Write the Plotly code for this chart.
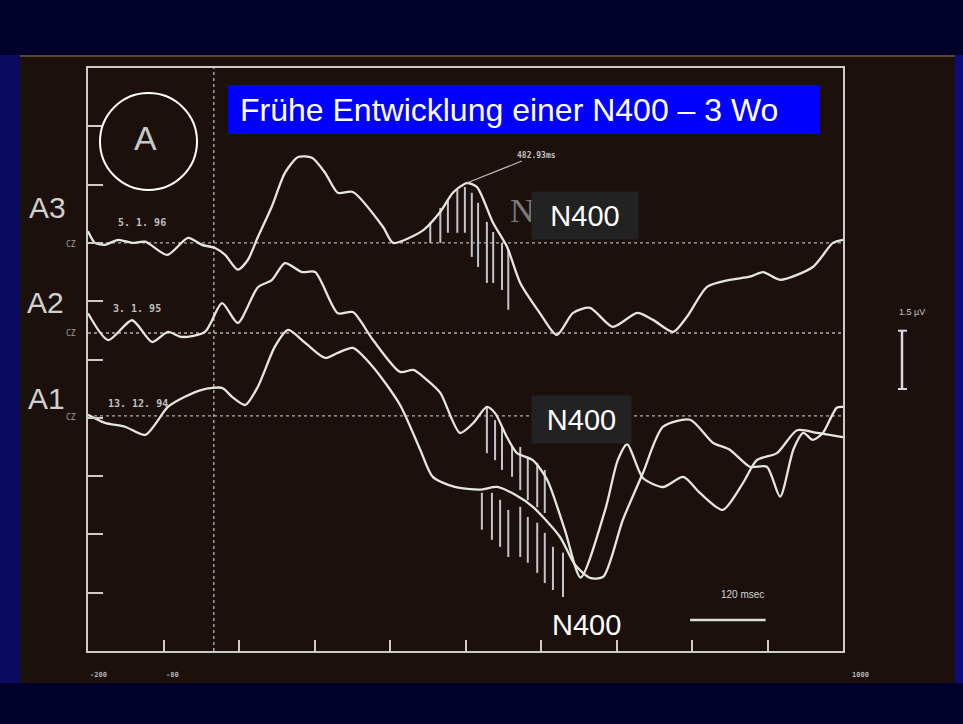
import plotly.graph_objects as go

# ---------------- data (time in ms, amplitude in µV relative to each baseline) ----------------
a3_t = [-200, -189, -173, -152, -130, -109, -74, -41, -19, 2, 18, 38, 54, 70, 92, 113, 134, 156, 177, 197,
        221, 269, 285, 333, 360, 380, 402, 418, 444, 466, 487, 518, 545, 571, 598, 634, 673, 698, 730, 752,
        784, 820, 852, 873, 900, 952, 984, 1000]
a3_v = [0.30, 0, -0.05, 0.08, 0, 0.03, -0.31, 0.13, -0.05, -0.13, -0.31, -0.69, -0.44, 0.15, 0.93, 1.80, 2.21, 2.19, 1.80, 1.29,
        1.31, 0.41, 0, 0.33, 0.80, 1.29, 1.54, 1.44, 0.51, -0.10, -1.03, -1.80, -2.37, -1.80, -1.67, -2.16, -1.80, -1.98, -2.29, -1.90,
        -1.13, -0.95, -0.87, -0.75, -0.95, -0.62, 0, 0.08]

a2_t = [-200, -168, -130, -98, -73, -51, -14, 13, 38, 70, 92, 113, 140, 161, 197, 221, 253, 296, 317, 339,
        360, 391, 412, 434, 447, 466, 482, 507, 530, 558, 583, 622, 642, 657, 682, 714, 746, 773, 809,
        841, 863, 895, 927, 959, 1000]
a2_v = [0.51, -0.18, 0.33, -0.23, 0.03, -0.10, 0.03, 0.77, 0.26, 1.18, 1.36, 1.80, 1.57, 1.57, 0.51, 0.54, -0.18, -1.00, -0.95, -1.21,
        -1.54, -2.57, -2.32, -1.90, -2.06, -2.68, -3.09, -3.27, -3.78, -5.07, -6.29, -4.55, -3.27, -2.86, -3.73, -3.96, -3.70, -4.12, -4.55,
        -3.86, -3.27, -3.09, -2.50, -2.57, -2.68]

a1_t = [-200, -173, -141, -109, -73, -46, -19, 13, 29, 50, 70, 97, 118, 145, 177, 197, 221, 253, 296, 328,
        348, 383, 423, 450, 479, 507, 550, 574, 598, 619, 650, 682, 714, 757, 793, 820, 852, 879, 900, 921,
        937, 952, 968, 990, 1000]
a1_v = [0.03, -0.18, -0.28, -0.49, 0.23, 0.49, 0.67, 0.72, 0.49, 0.28, 0.75, 1.78, 2.21, 1.88, 1.49, 1.62, 1.75, 1.26, 0.28, -0.87,
        -1.57, -1.83, -1.90, -1.83, -2.03, -2.34, -3.11, -3.83, -4.17, -4.14, -2.68, -1.47, -0.28, -0.10, -0.69, -0.87, -1.31, -1.31, -2.08, -0.87,
        -0.44, -0.62, -0.44, 0.21, 0.23]

# baseline offsets (µV on the display axis)
baselines = {"A3": 10.5, "A2": 8.18, "A1": 6.05}
dates = {"A3": "5. 1. 96", "A2": "3. 1. 95", "A1": "13. 12. 94"}

# hatched difference areas (time, top amplitude, bottom amplitude)
h3_t = [344, 360, 372, 387, 399, 410, 420, 434, 444, 458, 468]
h3_top = [0.54, 0.90, 1.11, 1.36, 1.44, 1.29, 1.03, 0.54, 0.28, 0, -0.18]
h3_bot = [0, 0, 0.26, 0.26, 0.26, -0.36, -0.62, -1.03, -1.03, -1.21, -1.72]

h2_t = [434, 447, 458, 474, 487, 499, 514, 526]
h2_top = [-1.90, -2.24, -2.42, -2.93, -2.93, -3.19, -3.34, -3.52]
h2_bot = [-3.09, -3.27, -3.52, -3.70, -4.04, -4.30, -4.48, -4.63]

h1_t = [426, 442, 455, 468, 487, 499, 514, 526, 539, 555]
h1_top = [-1.98, -1.98, -2.16, -2.42, -2.34, -2.60, -2.75, -3.01, -3.37, -3.52]
h1_bot = [-2.93, -3.19, -3.37, -3.63, -3.63, -3.78, -4.04, -4.30, -4.48, -4.66]

x_ticks = list(range(-200, 1001, 120))
y_ticks = [i * 1.5 for i in range(11)]
x_labels = [(-200, "-200"), (-80, "-80"), (1000, "1000")]
peak_label = (402, "A3", 1.54, "482.93ms")
scale_uv = 1.5
scale_ms = 120

# ---------------- layout helpers (pixel -> paper) ----------------
L, R, T, B = 88, 843, 68, 651
W, H = 963, 724
def px(x):
    return (x - L) / (R - L)
def py(y):
    return (B - y) / (B - T)

CURVE = "#e6e6df"
FRAME = "#cdcdc4"
PHOTO = "#1b100b"

fig = go.Figure()

def hatch(ts, tops, bots, off):
    xs, ys = [], []
    for t, a, b in zip(ts, tops, bots):
        xs += [t, t, None]
        ys += [off + a, off + b, None]
    return xs, ys

for ts, tops, bots, key in [(h3_t, h3_top, h3_bot, "A3"), (h2_t, h2_top, h2_bot, "A2"), (h1_t, h1_top, h1_bot, "A1")]:
    xs, ys = hatch(ts, tops, bots, baselines[key])
    fig.add_trace(go.Scatter(x=xs, y=ys, mode="lines", line=dict(color="#c4c4cc", width=2),
                             hoverinfo="skip", showlegend=False))

for ts, vs, key in [(a3_t, a3_v, "A3"), (a2_t, a2_v, "A2"), (a1_t, a1_v, "A1")]:
    off = baselines[key]
    fig.add_trace(go.Scatter(x=ts, y=[off + v for v in vs], mode="lines",
                             line=dict(color=CURVE, width=2.3, shape="spline", smoothing=0.7),
                             hoverinfo="skip", showlegend=False, name=key))

shapes = []
# slide side strips
shapes.append(dict(type="rect", xref="paper", yref="paper", x0=px(0), x1=px(20), y0=py(683), y1=py(55),
                   fillcolor="#0a0a62", line_width=0, layer="below"))
shapes.append(dict(type="rect", xref="paper", yref="paper", x0=px(955), x1=px(963), y0=py(683), y1=py(55),
                   fillcolor="#0c0c7c", line_width=0, layer="below"))
# photo
shapes.append(dict(type="rect", xref="paper", yref="paper", x0=px(20), x1=px(955), y0=py(683), y1=py(55),
                   fillcolor=PHOTO, line_width=0, layer="below"))
shapes.append(dict(type="line", xref="paper", yref="paper", x0=px(20), x1=px(955), y0=py(56), y1=py(56),
                   line=dict(color="#5c4434", width=2), layer="below"))
# dotted baselines and stimulus onset
for key, off in baselines.items():
    shapes.append(dict(type="line", xref="x", yref="y", x0=-200, x1=1000, y0=off, y1=off,
                       line=dict(color="#b0b0a6", width=1.4, dash="dot"), layer="below"))
shapes.append(dict(type="line", xref="x", yref="y", x0=0, x1=0, y0=0, y1=15,
                   line=dict(color="#b0b0a6", width=1.4, dash="dot"), layer="below"))
# circle around "A"
shapes.append(dict(type="circle", xref="paper", yref="paper", x0=px(100), x1=px(197), y0=py(190), y1=py(93),
                   line=dict(color="white", width=2)))
# title box
shapes.append(dict(type="rect", xref="paper", yref="paper", x0=px(228), x1=px(820), y0=py(134), y1=py(85),
                   fillcolor="#0000ff", line_width=0))
# amplitude scale bar
sb_x = px(902)
sb_y0 = py(389)
sb_y1 = sb_y0 + scale_uv / 15
shapes.append(dict(type="line", xref="paper", yref="paper", x0=sb_x, x1=sb_x, y0=sb_y0, y1=sb_y1,
                   line=dict(color="#d8d8e0", width=2.5)))
for yy in (sb_y0, sb_y1):
    shapes.append(dict(type="line", xref="paper", yref="paper", x0=px(898), x1=px(907), y0=yy, y1=yy,
                       line=dict(color="#d8d8e0", width=2)))
# time scale bar
shapes.append(dict(type="line", xref="x", yref="y", x0=757, x1=757 + scale_ms, y0=0.80, y1=0.80,
                   line=dict(color="#d4e4d4", width=2.5)))

ann = []
def A(x, y, text, size, color="#d0d0d0", family="Liberation Sans, Arial", **kw):
    d = dict(xref="paper", yref="paper", x=px(x), y=py(y), text=text, showarrow=False,
             font=dict(size=size, color=color, family=family), xanchor="center", yanchor="middle")
    d.update(kw)
    ann.append(d)

# row labels
A(47, 208, "A3", 30)
A(45, 302, "A2", 30)
A(46, 398, "A1", 30)
for key, yy in [("A3", 244), ("A2", 333), ("A1", 417)]:
    A(71, yy, "CZ", 8, color="#a0a0a0", family="DejaVu Sans Mono")
A(142, 223, "<b>" + dates["A3"] + "</b>", 10, color="#c0c0c0", family="DejaVu Sans Mono")
A(137, 308, "<b>" + dates["A2"] + "</b>", 10, color="#c0c0c0", family="DejaVu Sans Mono")
A(138, 403, "<b>" + dates["A1"] + "</b>", 10, color="#c0c0c0", family="DejaVu Sans Mono")
A(145, 138, "A", 34, color="#c8c8c8")
# title
A(238, 110, "Frühe Entwicklung einer N400 – 3 Wo", 32, color="white", xanchor="left")
# faded serif N behind box
A(522, 211, "N", 34, color="#7a7a7a", family="Liberation Serif")
# N400 labels
ann.append(dict(xref="paper", yref="paper", x=px(585), y=py(215.5), text="N400", showarrow=False,
                font=dict(size=29, color="white", family="Liberation Sans, Arial"), bgcolor="#222222",
                width=104, height=45, borderpad=1, xanchor="center", yanchor="middle"))
ann.append(dict(xref="paper", yref="paper", x=px(581.5), y=py(419.5), text="N400", showarrow=False,
                font=dict(size=29, color="white", family="Liberation Sans, Arial"), bgcolor="#222222",
                width=97, height=45, borderpad=1, xanchor="center", yanchor="middle"))
A(586, 625, "N400", 29, color="white")
# peak latency label
ann.append(dict(xref="x", yref="y", x=peak_label[0], y=baselines[peak_label[1]] + peak_label[2],
                text="<b>" + peak_label[3] + "</b>", showarrow=True, arrowhead=0, arrowwidth=1.2,
                arrowcolor="#b8b8b8", ax=70, ay=-28,
                font=dict(size=8, color="#c0c0c0", family="DejaVu Sans Mono")))
# scale labels
A(912, 312, "1.5 µV", 9, color="#c4c4c4")
A(742, 594, "120 msec", 10, color="#d4d4d4")
for t, lab in x_labels:
    xx = L + (t + 200) / 1200 * (R - L)
    shift = {-200: 10, -80: 9, 1000: 17}[t]
    A(xx + shift, 675, "<b>" + lab + "</b>", 7, color="#b4b4b4", family="DejaVu Sans Mono")

fig.update_layout(
    width=W, height=H, autosize=False,
    margin=dict(l=L, r=W - R, t=T, b=H - B, pad=0),
    paper_bgcolor="#00002a", plot_bgcolor="rgba(0,0,0,0)",
    shapes=shapes, annotations=ann, showlegend=False,
    xaxis=dict(range=[-200, 1000], showgrid=False, zeroline=False, showline=True, mirror=True,
               linecolor=FRAME, linewidth=2, ticks="inside", tickvals=x_ticks, ticklen=11, tickwidth=2,
               tickcolor=FRAME, showticklabels=False, fixedrange=True),
    yaxis=dict(range=[0, 15], showgrid=False, zeroline=False, showline=True, mirror=True,
               linecolor=FRAME, linewidth=2, ticks="inside", tickvals=y_ticks, ticklen=15, tickwidth=2,
               tickcolor=FRAME, showticklabels=False, fixedrange=True),
)

fig.write_html("out.html")
